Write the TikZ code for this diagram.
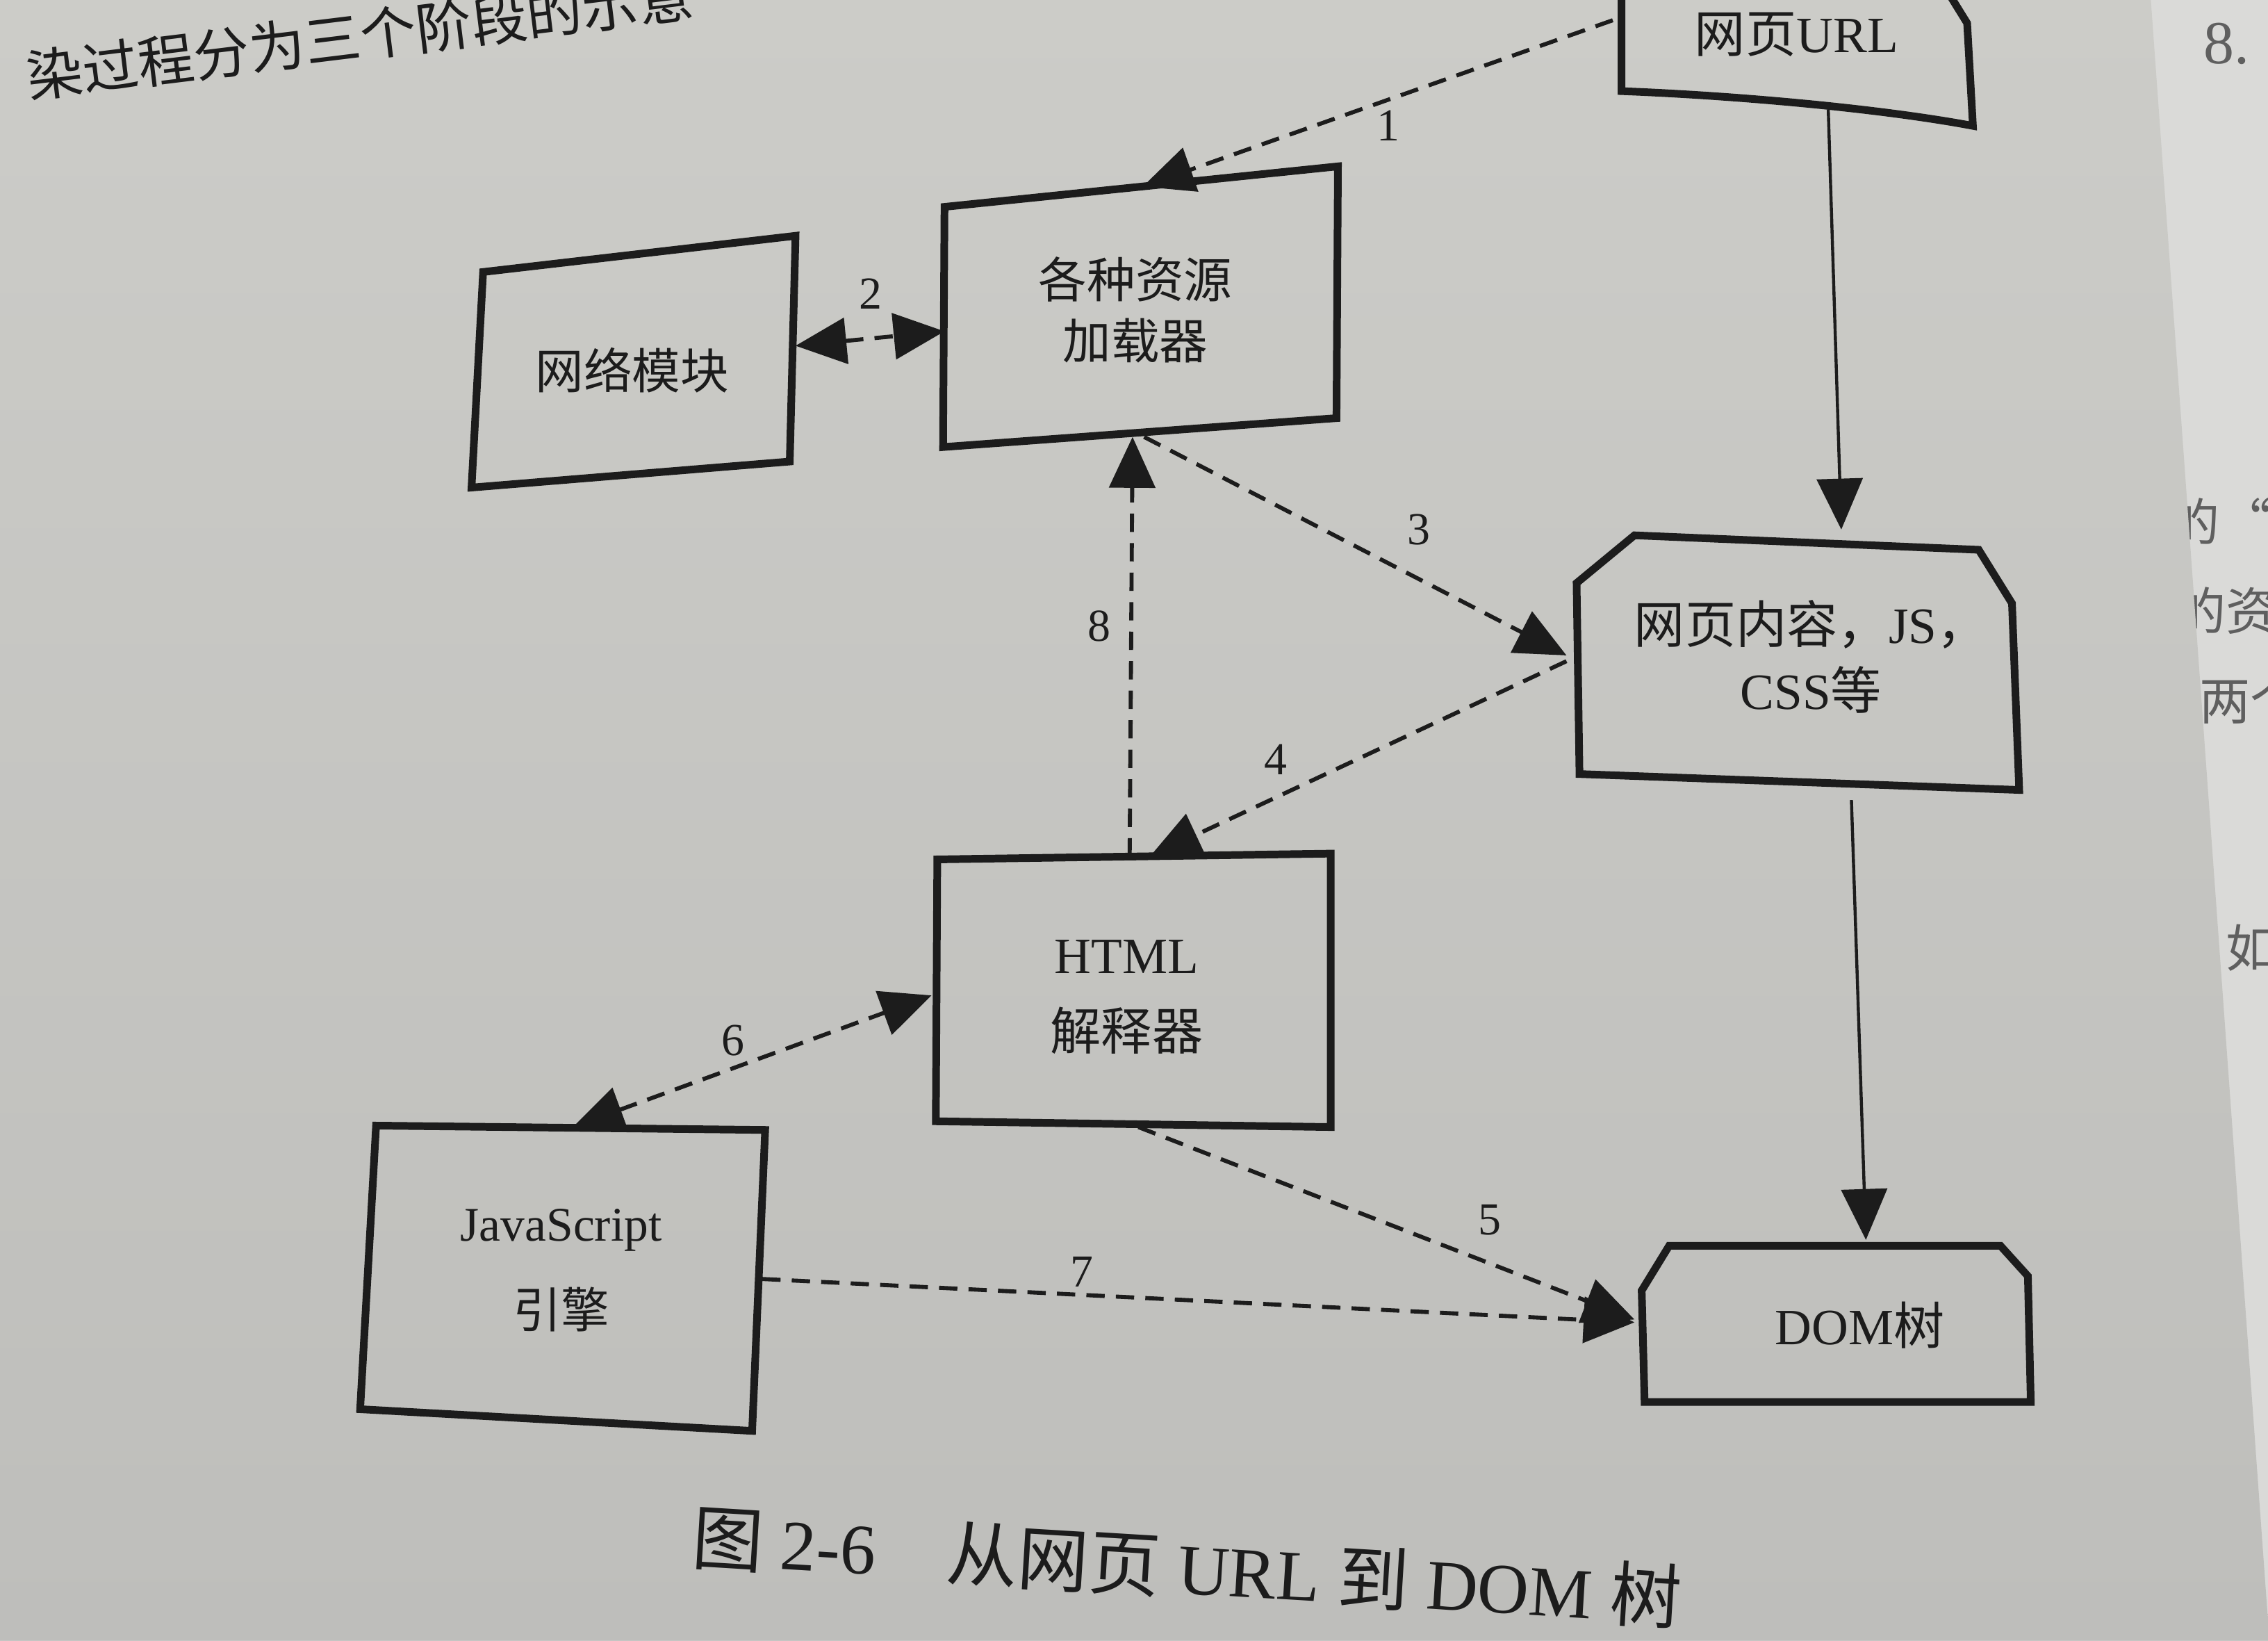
\documentclass[tikz,border=0pt]{standalone}
\usepackage{fontspec}
\setmainfont{Liberation Serif}
\newfontfamily\cjk{Noto Sans CJK SC}
\usetikzlibrary{arrows.meta}
\definecolor{paperA}{RGB}{204,204,200}
\definecolor{paperB}{RGB}{190,190,187}
\definecolor{pageR}{RGB}{218,218,216}
\definecolor{ink}{RGB}{28,28,28}
\definecolor{inkR}{RGB}{95,95,95}
\begin{document}
\begin{tikzpicture}[x=0.01cm,y=-0.01cm,
  box/.style={draw=ink,line width=1.5pt,line join=miter},
  txt/.style={text=ink,align=center,inner sep=0pt},
  dline/.style={draw=ink,line width=0.8pt,dash pattern=on 3.6pt off 2.2pt},
  sline/.style={draw=ink,line width=0.6pt},
  tip/.style={-{Triangle[length=10pt,width=9pt]}},
  tips/.style={{Triangle[length=10pt,width=9pt]}-{Triangle[length=10pt,width=9pt]}},
  lab/.style={text=ink,font=\fontsize{9}{10}\selectfont,inner sep=0pt},
  frag/.style={text=inkR,inner sep=0pt,anchor=west,font=\fontsize{10}{12}\selectfont}]
\useasboundingbox (0,0) rectangle (1568,1134);
\clip (0,0) rectangle (1568,1134);
% right-hand page and its text fragments
\fill[pageR] (0,0) rectangle (1568,1134);
\node[frag,font=\fontsize{12}{14}\selectfont] (f0) at (1523,30) {8.};
\node[frag] (f1) at (1499,360) {\cjk 的“};
\node[frag] (f2) at (1503,422) {\cjk 的资};
\node[frag] (f3) at (1520,484) {\cjk 两个};
\node[frag] (f4) at (1538,655) {\cjk 如};
% main page
\shade[top color=paperA,bottom color=paperB] (0,0) -- (1487,0) -- (1569,1134) -- (0,1134) -- cycle;
% partial text line at top
\node[anchor=west,rotate=7,text=ink,inner sep=0pt,font=\fontsize{11}{13}\selectfont] (toptext) at (18,53) {\cjk 染过程分为三个阶段的示意};
% box outlines
\draw[box] (1347,-5) -- (1360,16) -- (1364,87) .. controls (1300,75) and (1200,66) .. (1121,63) -- (1121,-5);
\draw[box] (334,188) -- (550,163) -- (546,319) -- (326,337) -- cycle;
\draw[box] (653,143) -- (925,115) -- (924,289) -- (652,309) -- cycle;
\draw[box] (1090,403) -- (1130,370) -- (1368,380) -- (1391,417) -- (1396,546) -- (1092,535) -- cycle;
\draw[box] (648,594) -- (920,590) -- (920,779) -- (647,775) -- cycle;
\draw[box] (260,778) -- (529,781) -- (520,989) -- (249,974) -- cycle;
\draw[box] (1135,892) -- (1154,861) -- (1383,861) -- (1402,882) -- (1404,969) -- (1137,969) -- cycle;
% box texts
\node[txt,font=\fontsize{10}{12}\selectfont] (url) at (1242,24) {{\cjk 网页}URL};
\node[txt,font=\fontsize{9.5}{12}\selectfont] (net) at (437,256) {\cjk 网络模块};
\node[txt,font=\fontsize{9.5}{12}\selectfont] (res) at (785,214) {{\cjk 各种资源}\\{\cjk 加载器}};
\node[txt,font=\fontsize{10}{13}\selectfont] (cont) at (1252,454) {{\cjk 网页内容，}JS{\cjk ，}\\CSS{\cjk 等}};
\node[txt,font=\fontsize{10}{15}\selectfont] (html) at (779,689) {HTML\\{\cjk 解释器}};
\node[txt,font=\fontsize{9.5}{17}\selectfont] (js) at (388,878) {JavaScript\\{\cjk 引擎}};
\node[txt,font=\fontsize{10}{12}\selectfont] (dom) at (1286,916) {DOM{\cjk 树}};
% connector end points
\coordinate (urlW) at (1115,14);
\coordinate (urlS) at (1264,76);
\coordinate (resN) at (790,129);
\coordinate (resW) at (653,229);
\coordinate (resS1) at (791,302);
\coordinate (resS2) at (783,302);
\coordinate (netE) at (550,239);
\coordinate (contN) at (1273,366);
\coordinate (contW1) at (1083,453);
\coordinate (contW2) at (1083,457);
\coordinate (contS) at (1280,553);
\coordinate (htmlN1) at (795,592);
\coordinate (htmlN2) at (781,592);
\coordinate (htmlW) at (644,688);
\coordinate (htmlS) at (787,779);
\coordinate (jsN) at (396,779);
\coordinate (jsE) at (527,884);
\coordinate (domN) at (1290,857);
\coordinate (domW1) at (1130,912);
\coordinate (domW2) at (1130,914);
% connectors
\draw[dline,tip] (urlW) -- (resN);
\draw[dline,tips] (netE) -- (resW);
\draw[dline,tip] (resS1) -- (contW1);
\draw[dline,tip] (contW2) -- (htmlN1);
\draw[dline,tip] (htmlN2) -- (resS2);
\draw[dline,tips] (jsN) -- (htmlW);
\draw[dline,tip] (htmlS) -- (domW1);
\draw[dline,tip] (jsE) -- (domW2);
\draw[sline,tip] (urlS) -- (contN);
\draw[sline,tip] (contS) -- (domN);
% connector labels
\node[lab] (n1) at (960,87) {1};
\node[lab] (n2) at (602,203) {2};
\node[lab] (n3) at (981,366) {3};
\node[lab] (n4) at (882,525) {4};
\node[lab] (n5) at (1030,843) {5};
\node[lab] (n6) at (507,719) {6};
\node[lab] (n7) at (748,879) {7};
\node[lab] (n8) at (760,433) {8};
% caption
\node[txt,anchor=west,rotate=-3.5,font=\fontsize{14}{16}\selectfont] (cap) at (478,1062) {{\cjk 图} 2-6\hspace{1em}{\cjk 从网页} URL {\cjk 到} DOM {\cjk 树}};
\end{tikzpicture}
\end{document}
